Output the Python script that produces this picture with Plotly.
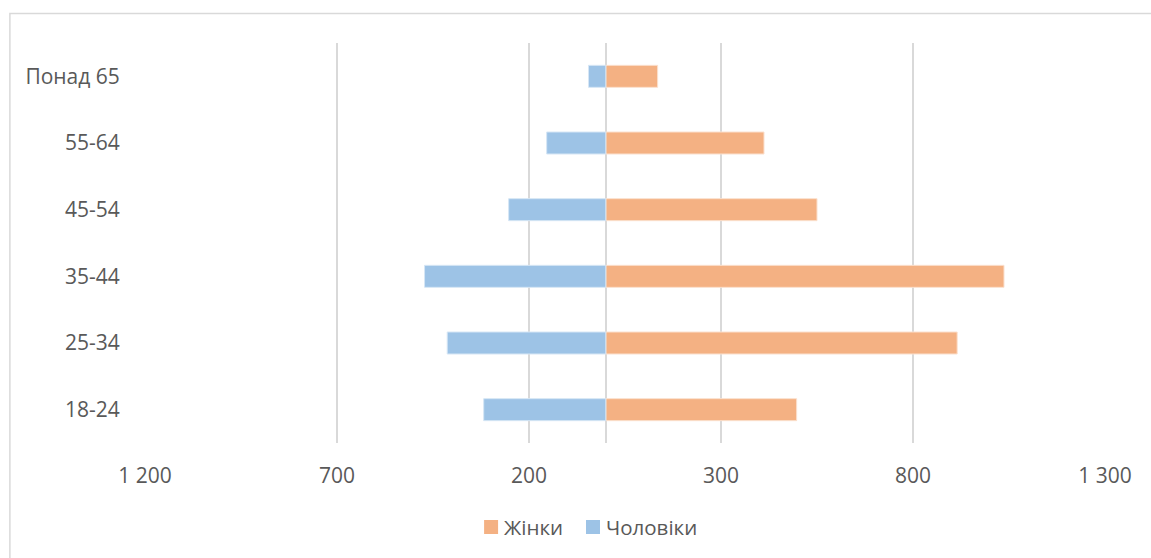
import plotly.graph_objects as go

categories = ["18-24", "25-34", "35-44", "45-54", "55-64", "Понад 65"]
women = [497, 915, 1037, 550, 412, 135]
men = [318, 413, 472, 253, 154, 45]
tick_vals = [-1200, -700, -200, 300, 800, 1300]
tick_text = ["1 200", "700", "200", "300", "800", "1 300"]
series_names = ["Жінки", "Чоловіки"]
series_colors = ["#F4B183", "#9DC3E6"]

W, H = 1151, 558
L, R, T, B = 144.7, 1151 - 1105.3, 43, 558 - 443
pw, ph = W - L - R, H - T - B

def px_x(x):
    return (x - L) / pw

def px_y(y):
    return (H - B - y) / ph

font = dict(family="Open Sans", size=21, color="#595959")
legend_font = dict(family="Open Sans", size=20.5, color="#595959")

fig = go.Figure()
fig.add_trace(go.Bar(
    y=categories, x=women, orientation="h", name=series_names[0],
    marker=dict(color=series_colors[0], line=dict(color="#FBE0CE", width=1)),
))
fig.add_trace(go.Bar(
    y=categories, x=[-v for v in men], orientation="h", name=series_names[1],
    marker=dict(color=series_colors[1], line=dict(color="#D6E6F5", width=1)),
))

shapes = [dict(type="rect", xref="paper", yref="paper",
               x0=px_x(9.5), x1=px_x(1160), y0=px_y(575), y1=px_y(13.5),
               line=dict(color="#D9D9D9", width=1.5), fillcolor="rgba(0,0,0,0)", layer="below")]
annotations = []
legend_x = [484, 586]
for name, color, lx in zip(series_names, series_colors, legend_x):
    shapes.append(dict(type="rect", xref="paper", yref="paper",
                       x0=px_x(lx), x1=px_x(lx + 14), y0=px_y(534), y1=px_y(520),
                       line=dict(width=0), fillcolor=color))
    annotations.append(dict(xref="paper", yref="paper", x=px_x(lx + 18), y=px_y(527),
                            xanchor="left", yanchor="middle", text=name, showarrow=False,
                            font=legend_font))

fig.update_layout(
    width=W, height=H,
    margin=dict(l=L, r=R, t=T, b=B, pad=0, autoexpand=False),
    barmode="relative", bargap=0.67,
    plot_bgcolor="white", paper_bgcolor="white",
    font=font,
    showlegend=False,
    xaxis=dict(range=[-1200, 1300], tickvals=tick_vals, ticktext=tick_text,
               showgrid=True, gridcolor="#D9D9D9", gridwidth=1.5,
               zeroline=True, zerolinecolor="#D9D9D9", zerolinewidth=1.5,
               showline=False, ticks="outside", ticklen=14, tickcolor="rgba(0,0,0,0)",
               tickfont=font, fixedrange=True, automargin=False),
    yaxis=dict(showgrid=False, zeroline=False, showline=False,
               ticks="outside", ticklen=20, tickcolor="rgba(0,0,0,0)",
               tickfont=font, fixedrange=True, automargin=False),
    shapes=shapes,
    annotations=annotations,
)

fig.write_html("out.html")
